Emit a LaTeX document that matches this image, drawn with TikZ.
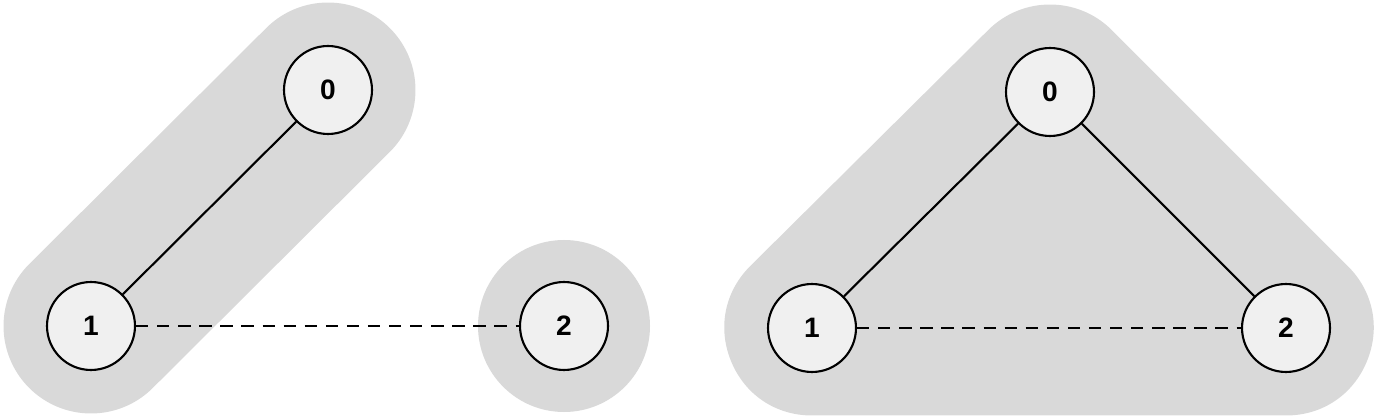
\documentclass[tikz,border=0pt]{standalone}
\usepackage{fontspec}
\setmainfont{Liberation Sans}
\usetikzlibrary{positioning}
\definecolor{blobgray}{HTML}{D9D9D9}
\definecolor{nodegray}{HTML}{F0F0F0}
\tikzstyle{vertex} = [circle, minimum size=1.76cm, inner sep=0cm, draw=black, line width=1.2pt, fill=nodegray, font=\fontsize{16}{19}\selectfont\bfseries]
\tikzstyle{edge} = [line width=1.2pt]
\tikzstyle{cut} = [line width=1.2pt, dash pattern=on 7pt off 5pt]
\tikzstyle{blob} = [blobgray, line width=3.5cm, line cap=round, line join=round]
\begin{document}
\begin{tikzpicture}[x=0.02cm, y=-0.02cm]
\useasboundingbox (0,0) rectangle (1385,418);
% left graph
\coordinate (LA) at (328,90);
\coordinate (LB) at (91,326);
\coordinate (LC) at (564,326);
\draw [blob] (LA) -- (LB);
\fill [blobgray] (LC) circle (86);
\node (L0) [vertex] at (LA) {0};
\node (L1) [vertex] at (LB) {1};
\node (L2) [vertex] at (LC) {2};
\draw [edge] (L0) -- (L1);
\draw [cut] (L1) -- (L2);
% right graph
\coordinate (RA) at (1050,92);
\coordinate (RB) at (812,328);
\coordinate (RC) at (1286,328);
\draw [blob, fill=blobgray] (RA) -- (RB) -- (RC) -- cycle;
\node (R0) [vertex] at (RA) {0};
\node (R1) [vertex] at (RB) {1};
\node (R2) [vertex] at (RC) {2};
\draw [edge] (R0) -- (R1);
\draw [edge] (R0) -- (R2);
\draw [cut] (R1) -- (R2);
\end{tikzpicture}
\end{document}
